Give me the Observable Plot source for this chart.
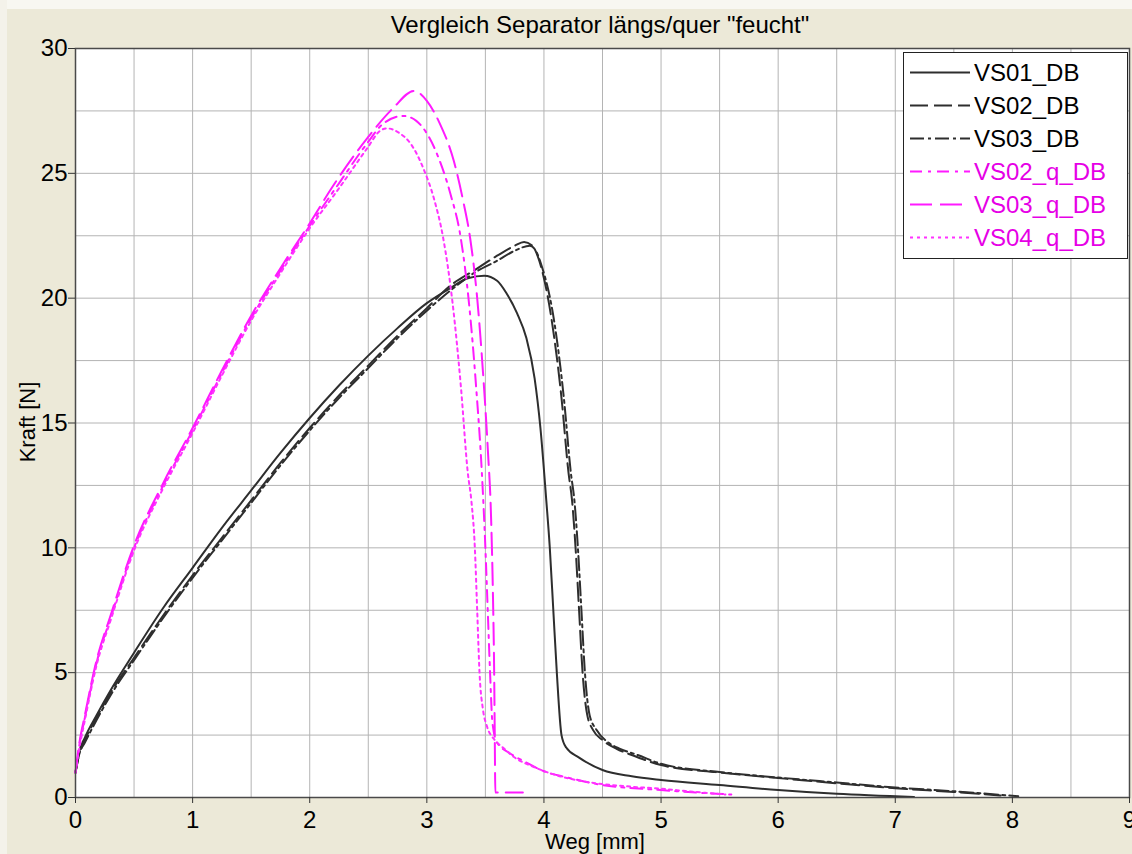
<!DOCTYPE html>
<html>
<head>
<meta charset="utf-8">
<script src="https://cdn.jsdelivr.net/npm/d3@7"></script>
<script src="https://cdn.jsdelivr.net/npm/@observablehq/plot@0.6"></script>
<style>
  html, body { margin: 0; padding: 0; }
  body { width: 1132px; height: 854px; background: #ECE9D8; position: relative; overflow: hidden;
         font-family: "Liberation Sans", Arial, sans-serif; }
  #bandTop { position: absolute; left: 0; top: 0; width: 1132px; height: 9px; background: #F8F7F1; }
  #bandLeft { position: absolute; left: 0; top: 0; width: 7px; height: 854px; background: #F4F2EA; }
  #title { position: absolute; left: 0; top: 13px; width: 1200px; text-align: center;
           font-size: 24px; line-height: 24px; color: #000; }
  #chart { position: absolute; left: 0; top: 40px; }
  #xlabel { position: absolute; left: 0; top: 831px; width: 1190px; text-align: center;
            font-size: 22px; line-height: 22px; color: #000; }
  #ylabel { position: absolute; left: 28px; top: 422px; transform: translate(-50%, -50%) rotate(-90deg);
            font-size: 22px; line-height: 22px; white-space: nowrap; color: #000; }
  #legend { position: absolute; left: 903px; top: 52px; width: 225px; height: 207px;
            box-sizing: border-box; border: 1.5px solid #222; background: #fff; }
</style>
</head>
<body>
<div id="bandTop"></div>
<div id="bandLeft"></div>
<div id="title"></div>
<div id="chart"></div>
<div id="xlabel"></div>
<div id="ylabel"></div>
<div id="legend"></div>
<script>
// ---- texts ----
const titleText = 'Vergleich Separator längs/quer "feucht"';
const xLabel = "Weg [mm]";
const yLabel = "Kraft [N]";
const xTicks = [0, 1, 2, 3, 4, 5, 6, 7, 8, 9];
const yTicks = [0, 5, 10, 15, 20, 25, 30];

// ---- series (Weg [mm], Kraft [N]) ----
const VS01_DB = [[0,1.0],[0.03,1.8],[0.08,2.4],[0.18,3.3],[0.3,4.3],[0.5,5.8],[0.75,7.6],[1.0,9.2],[1.25,10.8],[1.5,12.3],[1.75,13.8],[2.0,15.2],[2.25,16.5],[2.5,17.7],[2.75,18.8],[3.0,19.8],[3.2,20.4],[3.35,20.8],[3.49,20.9],[3.6,20.7],[3.68,20.2],[3.77,19.4],[3.85,18.4],[3.92,16.8],[3.97,14.8],[4.02,11.9],[4.05,10.0],[4.08,7.5],[4.11,5.0],[4.15,2.5],[4.19,2.0],[4.3,1.6],[4.5,1.1],[4.75,0.85],[5.0,0.7],[5.5,0.5],[6.0,0.3],[6.5,0.15],[7.16,0.02]];
const VS02_DB = [[0,1.0],[0.03,1.7],[0.08,2.3],[0.18,3.2],[0.3,4.2],[0.5,5.6],[0.75,7.3],[1.0,8.9],[1.25,10.4],[1.5,11.9],[1.75,13.4],[2.0,14.8],[2.25,16.1],[2.5,17.3],[2.75,18.5],[3.0,19.6],[3.2,20.5],[3.4,21.1],[3.6,21.7],[3.75,22.1],[3.83,22.25],[3.9,22.1],[3.96,21.5],[4.07,19.0],[4.15,16.0],[4.21,13.0],[4.24,11.9],[4.27,10.0],[4.30,7.5],[4.33,5.0],[4.37,3.3],[4.42,2.7],[4.5,2.3],[4.62,1.95],[4.75,1.7],[5.0,1.3],[5.5,1.0],[6.0,0.78],[6.5,0.57],[7.0,0.37],[7.5,0.22],[7.9,0.08]];
const VS03_DB = [[0,1.0],[0.03,1.7],[0.08,2.2],[0.18,3.1],[0.3,4.1],[0.5,5.5],[0.75,7.2],[1.0,8.8],[1.25,10.3],[1.5,11.8],[1.75,13.3],[2.0,14.7],[2.25,16.0],[2.5,17.2],[2.75,18.4],[3.0,19.5],[3.2,20.3],[3.4,21.0],[3.6,21.5],[3.75,21.9],[3.88,22.1],[3.93,21.9],[3.98,21.3],[4.09,19.0],[4.17,16.0],[4.23,13.0],[4.26,11.9],[4.29,10.0],[4.32,7.5],[4.35,5.0],[4.39,3.3],[4.45,2.7],[4.55,2.2],[4.65,1.95],[4.8,1.7],[5.0,1.35],[5.5,1.02],[6.0,0.8],[6.5,0.6],[7.0,0.4],[7.5,0.25],[8.05,0.05]];
const VS02_q_DB = [[0,1.0],[0.03,2.0],[0.08,3.2],[0.18,5.4],[0.3,7.2],[0.5,10.0],[0.75,12.5],[1.0,14.7],[1.25,17.0],[1.5,19.2],[1.75,21.1],[2.0,22.9],[2.25,24.6],[2.49,26.2],[2.63,27.0],[2.8,27.3],[2.91,27.1],[3.0,26.6],[3.11,25.5],[3.2,24.2],[3.29,22.4],[3.36,19.8],[3.42,16.5],[3.47,13.0],[3.5,10.0],[3.52,7.5],[3.54,5.0],[3.56,3.0],[3.6,2.2],[3.7,1.8],[3.85,1.4],[4.0,1.05],[4.2,0.8],[4.5,0.5],[5.0,0.3],[5.3,0.2],[5.6,0.12]];
const VS03_q_DB = [[0,1.0],[0.03,2.1],[0.08,3.3],[0.18,5.5],[0.3,7.3],[0.5,10.1],[0.75,12.6],[1.0,14.8],[1.25,17.1],[1.5,19.3],[1.75,21.2],[2.0,23.0],[2.2,24.5],[2.49,26.4],[2.71,27.6],[2.89,28.3],[3.0,27.9],[3.11,27.0],[3.23,25.5],[3.31,23.9],[3.37,22.4],[3.43,20.0],[3.48,17.0],[3.52,14.0],[3.55,11.0],[3.565,8.0],[3.575,5.0],[3.58,2.5],[3.585,0.2],[3.82,0.2]];
const VS04_q_DB = [[0,1.0],[0.03,1.9],[0.08,3.1],[0.18,5.3],[0.3,7.1],[0.5,9.9],[0.75,12.4],[1.0,14.6],[1.25,16.9],[1.5,19.1],[1.75,21.0],[2.0,22.8],[2.25,24.4],[2.49,26.0],[2.6,26.7],[2.66,26.8],[2.77,26.6],[2.86,26.2],[2.97,25.2],[3.06,24.0],[3.14,22.4],[3.22,19.8],[3.29,16.5],[3.35,13.0],[3.38,11.9],[3.41,10.0],[3.43,7.5],[3.45,5.0],[3.48,3.5],[3.51,2.9],[3.58,2.3],[3.65,2.0],[3.75,1.6],[3.9,1.25],[4.1,0.9],[4.4,0.6],[4.7,0.45],[5.0,0.35],[5.3,0.22],[5.55,0.12]];

const seriesNames = ["VS01_DB", "VS02_DB", "VS03_DB", "VS02_q_DB", "VS03_q_DB", "VS04_q_DB"];
const seriesData = [VS01_DB, VS02_DB, VS03_DB, VS02_q_DB, VS03_q_DB, VS04_q_DB];
const seriesColors = ["#2e2e2e", "#2e2e2e", "#2e2e2e", "#ff1aff", "#ff1aff", "#ff33ff"];
const seriesDash = [null, "18,6", "14,4,3,4", "12,6,3,6", "22,8", "3,4"];
const seriesWidth = [2, 2, 2, 2, 2, 2];

// ---- texts to DOM ----
document.getElementById("title").textContent = titleText;
document.getElementById("xlabel").textContent = xLabel;
document.getElementById("ylabel").textContent = yLabel;

// ---- chart ----
const lineMarks = seriesData.map((d, i) => Plot.line(d, {
  x: p => p[0], y: p => p[1],
  stroke: seriesColors[i],
  strokeWidth: seriesWidth[i],
  strokeDasharray: seriesDash[i] || undefined,
  curve: "monotone-x"
}));

const chart = Plot.plot({
  width: 1132,
  height: 814,
  marginTop: 8,
  marginLeft: 75,
  marginRight: 3,
  marginBottom: 57,
  style: { background: "transparent", fontFamily: '"Liberation Sans", Arial, sans-serif', fontSize: "24px", color: "#000", overflow: "visible" },
  x: { domain: [0, 9], label: null },
  y: { domain: [0, 30], label: null },
  marks: [
    Plot.frame({ fill: "white", stroke: null }),
    Plot.gridX({ ticks: d3.range(0, 9.01, 0.5), stroke: "#b4b4b4", strokeOpacity: 1, strokeWidth: 1 }),
    Plot.gridY({ ticks: d3.range(0, 30.01, 2.5), stroke: "#b4b4b4", strokeOpacity: 1, strokeWidth: 1 }),
    ...lineMarks,
    Plot.frame({ stroke: "#4a4a4a", strokeWidth: 1.5 }),
    Plot.axisX({ ticks: xTicks, tickSize: 6, tickPadding: 7, label: null, fontSize: 24, stroke: "#333" }),
    Plot.axisY({ ticks: yTicks, tickSize: 7, tickPadding: 1, label: null, fontSize: 24, stroke: "#333" })
  ]
});
document.getElementById("chart").appendChild(chart);

// ---- legend ----
const legend = d3.select("#legend").append("svg")
  .attr("width", 222).attr("height", 204)
  .style("display", "block");
seriesNames.forEach((name, i) => {
  const cy = 19.5 + 33 * i;
  legend.append("line")
    .attr("x1", 6).attr("x2", 66).attr("y1", cy).attr("y2", cy)
    .attr("stroke", seriesColors[i]).attr("stroke-width", 2)
    .attr("stroke-dasharray", seriesDash[i]);
  legend.append("text")
    .attr("x", 70).attr("y", cy).attr("dy", "0.36em")
    .attr("font-family", '"Liberation Sans", Arial, sans-serif')
    .attr("font-size", 24)
    .attr("fill", i < 3 ? "#000" : "#e600e6")
    .text(name);
});
</script>
</body>
</html>
